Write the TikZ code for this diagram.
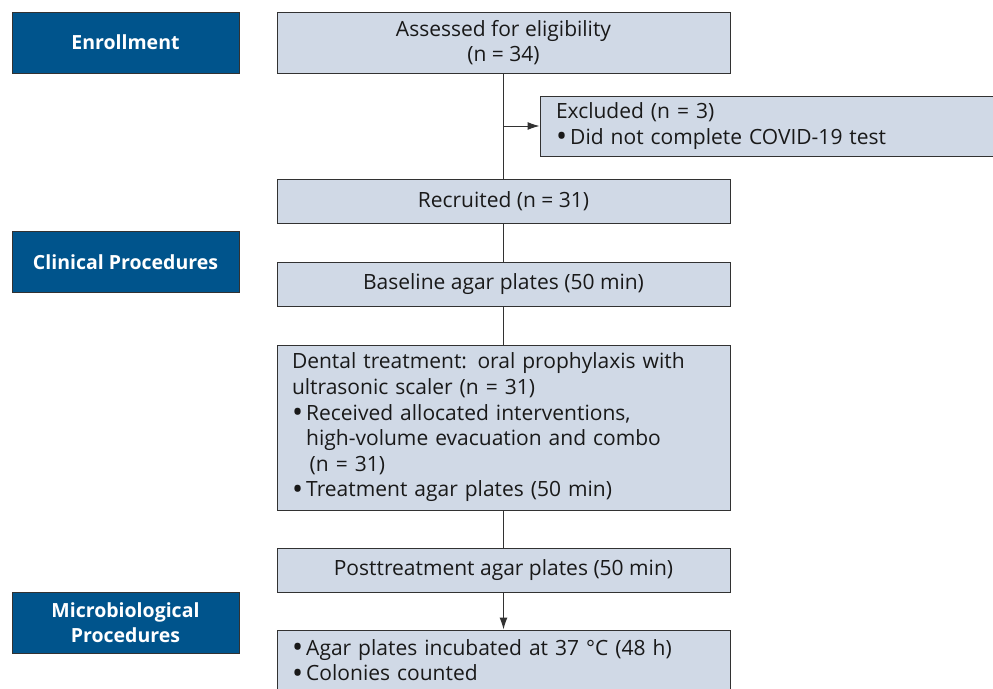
\documentclass[tikz,border=0pt]{standalone}
\usepackage{fontspec}
\setmainfont{Open Sans}
\usetikzlibrary{arrows.meta}
\definecolor{boxfill}{RGB}{208,217,230}
\definecolor{hdrblue}{RGB}{0,84,140}
\definecolor{linegray}{RGB}{50,50,50}
\newcommand{\bul}{\smash{\raisebox{-0.13em}{\scalebox{1.4}{\textbullet}}}\hspace{0.15em}}
\newcommand{\bulsp}{\hphantom{\bul}}
\tikzset{
  flowbox/.style={draw=linegray, line width=1pt, fill=boxfill, rectangle, minimum width=453pt,
    font=\fontsize{21}{25.6}\selectfont, text=black!90, inner sep=0pt},
  hdrbox/.style={draw=linegray, line width=1pt, fill=hdrblue, rectangle, minimum width=227pt, minimum height=61pt,
    font=\fontsize{19.5}{25}\selectfont\bfseries, text=white, align=center, inner sep=0pt},
  conn/.style={draw=linegray, line width=1pt},
  arr/.style={conn, -{Latex[length=12pt,width=8pt]}}
}
\begin{document}
\begin{tikzpicture}[x=1pt,y=-1pt]
\useasboundingbox (0,0) rectangle (993,688);
% headers
\node[hdrbox] (enr) at (125.5,42.5) {Enrollment};
\node[hdrbox] (clin) at (125.5,262) {Clinical Procedures};
\node[hdrbox] (micro) at (125.5,623) {Microbiological\\Procedures};
% flow boxes
\node[flowbox, minimum height=61pt, align=center] (assess) at (503.5,42.5) {Assessed for eligibility\\(n = 34)};
\node[flowbox, minimum width=456pt, minimum height=60pt, text width=424pt, align=left, inner xsep=16pt] (excl) at (768,126)
  {Excluded (n = 3)\\\bul Did not complete COVID-19 test};
\node[flowbox, minimum height=44pt, align=center] (recr) at (503.5,201) {Recruited (n = 31)};
\node[flowbox, minimum height=44pt, align=center] (base) at (503.5,284) {Baseline agar plates (50 min)};
\node[flowbox, minimum height=165pt, text width=423pt, align=left, inner xsep=15pt] (dent) at (503.5,427.5)
  {Dental treatment: oral prophylaxis with\\
   ultrasonic scaler (n = 31)\\
   \bul Received allocated interventions,\\
   \bulsp high-volume evacuation and combo\\
   \bulsp\,(n = 31)\\
   \bul Treatment agar plates (50 min)};
\node[flowbox, minimum height=44pt, align=center] (post) at (503.5,570) {Posttreatment agar plates (50 min)};
\node[flowbox, minimum height=60pt, text width=423pt, align=left, inner xsep=15pt] (agar) at (503.5,660)
  {\bul Agar plates incubated at 37 °C (48 h)\\
   \bul Colonies counted};
% connectors
\coordinate (split) at (503.5,126);
\draw[conn] (assess.south) -- (recr.north);
\draw[arr] (split) -- (excl.west);
\draw[conn] (recr.south) -- (base.north);
\draw[conn] (base.south) -- (dent.north);
\draw[conn] (dent.south) -- (post.north);
\draw[arr] (post.south) -- (agar.north);
\end{tikzpicture}
\end{document}
